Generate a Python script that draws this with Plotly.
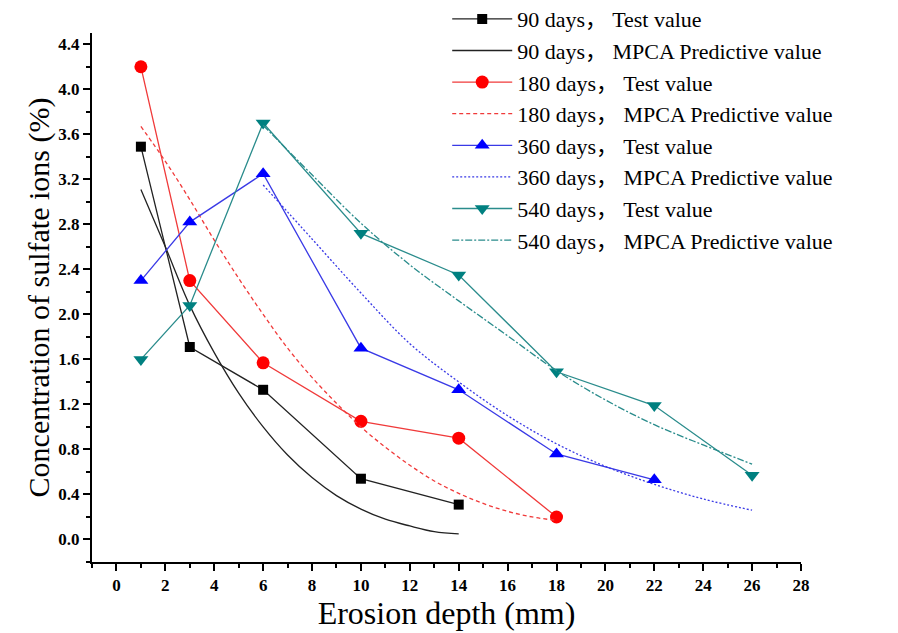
import plotly.graph_objects as go

# ---------------- data ----------------
depth_90 = [1, 3, 6, 10, 14]
test_90 = [3.49, 1.71, 1.33, 0.54, 0.31]
pred_x_90 = [1, 2, 3, 4, 5, 6, 7, 8, 9, 10, 11, 12, 13, 14]
pred_90 = [3.11, 2.60, 2.08, 1.66, 1.30, 1.00, 0.75, 0.55, 0.39, 0.27, 0.18, 0.12, 0.07, 0.05]

depth_180 = [1, 3, 6, 10, 14, 18]
test_180 = [4.20, 2.30, 1.57, 1.05, 0.90, 0.20]
pred_x_180 = [1, 2, 3, 4, 5, 6, 7, 8, 9, 10, 11, 12, 13, 14, 15, 16, 17, 18]
pred_180 = [3.67, 3.36, 3.02, 2.66, 2.32, 2.00, 1.70, 1.44, 1.21, 1.00, 0.82, 0.66, 0.52, 0.41, 0.32, 0.25, 0.20, 0.17]

depth_360 = [1, 3, 6, 10, 14, 18, 22]
test_360 = [2.30, 2.82, 3.25, 1.70, 1.33, 0.76, 0.53]
pred_x_360 = [6, 8, 10, 12, 14, 16, 18, 20, 22, 24, 26]
pred_360 = [3.15, 2.67, 2.19, 1.74, 1.40, 1.10, 0.85, 0.65, 0.49, 0.36, 0.26]

depth_540 = [1, 3, 6, 10, 14, 18, 22, 26]
test_540 = [1.60, 2.08, 3.70, 2.72, 2.35, 1.49, 1.19, 0.57]
pred_x_540 = [6, 8, 10, 12, 14, 16, 18, 20, 22, 24, 26]
pred_540 = [3.68, 3.24, 2.81, 2.44, 2.12, 1.81, 1.50, 1.24, 1.02, 0.84, 0.67]

x_ticks = list(range(0, 29, 2))
y_ticks = [0.0, 0.4, 0.8, 1.2, 1.6, 2.0, 2.4, 2.8, 3.2, 3.6, 4.0, 4.4]

# ---------------- figure ----------------
FONT = "Liberation Serif, Times New Roman, Noto Sans CJK SC, serif"
fig = go.Figure()

series = [
    ("90", depth_90, test_90, pred_x_90, pred_90, "#000000", "#222222", "square", 10, "solid"),
    ("180", depth_180, test_180, pred_x_180, pred_180, "#ff0000", "#f03a3a", "circle", 13, "4px,3px"),
    ("360", depth_360, test_360, pred_x_360, pred_360, "#0000ff", "#3a3ae6", "triangle-up", 13, "2px,2px"),
    ("540", depth_540, test_540, pred_x_540, pred_540, "#008080", "#2a8c8c", "triangle-down", 13, "7px,2px,2px,2px"),
]

for name, dx, dy, px, py, mcol, lcol, sym, msize, dash in series:
    fig.add_trace(go.Scatter(
        x=dx, y=dy, mode="lines+markers",
        name=f"{name} days， Test value",
        line=dict(color=lcol, width=1.3),
        marker=dict(symbol=sym, size=msize, color=mcol, line=dict(width=0)),
    ))
    fig.add_trace(go.Scatter(
        x=px, y=py, mode="lines",
        name=f"{name} days， MPCA Predictive value",
        line=dict(color=lcol, width=1.3, dash=dash, shape="spline", smoothing=1.0),
    ))

fig.update_layout(
    width=898, height=633,
    margin=dict(l=92, r=97, t=33, b=71, autoexpand=False),
    paper_bgcolor="white", plot_bgcolor="white",
    font=dict(family=FONT, color="#000000"),
    showlegend=True,
    legend=dict(
        x=0.501, y=1.066, xanchor="left", yanchor="top",
        bgcolor="rgba(0,0,0,0)",
        font=dict(family=FONT, size=22, color="#000000"),
        itemwidth=60, tracegroupgap=0,
    ),
    xaxis=dict(
        range=[-1, 28], tickmode="array", tickvals=x_ticks,
        ticktext=[str(v) for v in x_ticks],
        showgrid=False, zeroline=False,
        showline=True, linecolor="#000000", linewidth=2,
        ticks="outside", ticklen=7, tickwidth=2, tickcolor="#000000",
        minor=dict(ticks="outside", ticklen=4, tickwidth=1.5, dtick=1, tick0=0, tickcolor="#000000"),
        tickfont=dict(family=FONT, size=17, color="#000000", weight="bold"),
        title=dict(text="Erosion depth (mm)", font=dict(family=FONT, size=32, color="#000000"), standoff=2),
    ),
    yaxis=dict(
        range=[-0.2, 4.5], tickmode="array", tickvals=y_ticks,
        ticktext=[f"{v:.1f}" for v in y_ticks],
        showgrid=False, zeroline=False,
        showline=True, linecolor="#000000", linewidth=2,
        ticks="outside", ticklen=7, tickwidth=2, tickcolor="#000000",
        minor=dict(ticks="outside", ticklen=4, tickwidth=1.5, dtick=0.2, tick0=0, tickcolor="#000000"),
        tickfont=dict(family=FONT, size=17, color="#000000", weight="bold"),
        title=dict(text="Concentration of sulfate ions (%)", font=dict(family=FONT, size=30, color="#000000"), standoff=0),
    ),
)

fig.write_html("out.html")
